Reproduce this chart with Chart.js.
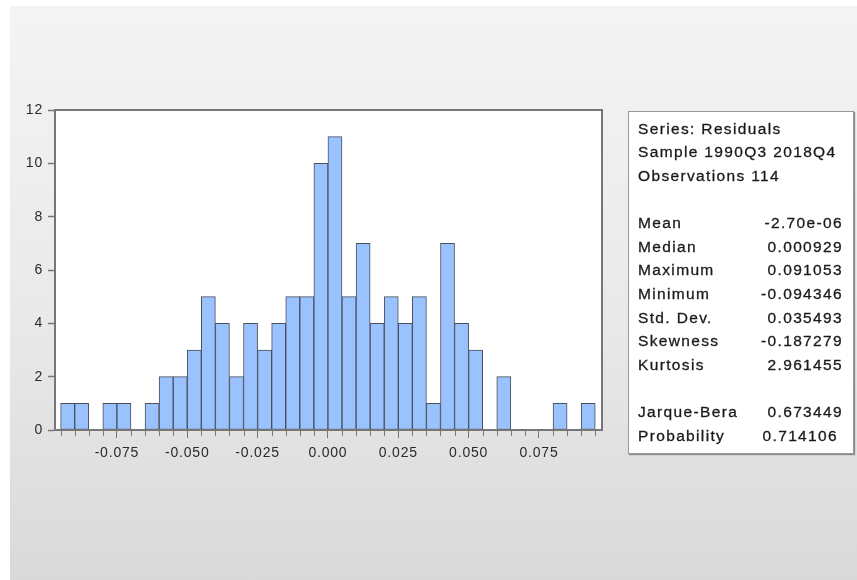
<!DOCTYPE html>
<html>
<head>
<meta charset="utf-8">
<script src="https://cdn.jsdelivr.net/npm/chart.js@4/dist/chart.umd.min.js"></script>
<style>
  html, body { margin: 0; padding: 0; background: #ffffff; }
  #wrap { position: relative; width: 857px; height: 580px; overflow: hidden; }
  #bg { position: absolute; left: 10px; top: 6px; width: 847px; height: 574px;
        background: linear-gradient(to bottom, #f4f4f4 0%, #e9e9e9 55%, #d9d9d9 100%); }
  #c { position: absolute; left: 0; top: 0; }
  #stats { position: absolute; left: 628px; top: 111px; width: 224px; height: 341px;
           background: #ffffff; border: 1px solid #9a9a9a; box-shadow: 1px 1px 1px #8a8a8a;
           font-family: "Liberation Sans", Arial, sans-serif; font-size: 15.5px; color: #1a1a1a;
           letter-spacing: 1.35px; -webkit-text-stroke: 0.3px #1a1a1a; }
  .row { position: absolute; left: 9px; width: 205px; height: 24px; line-height: 24px; white-space: nowrap; }
  .row .v { position: absolute; right: 0; top: 0; }
</style>
</head>
<body>
<div id="wrap">
  <div id="bg"></div>
  <canvas id="c" width="857" height="580"></canvas>
  <div id="stats"></div>
</div>
<script>
// ---- data ----
const binCenters = [-0.0925, -0.0875, -0.0825, -0.0775, -0.0725, -0.0675, -0.0625, -0.0575, -0.0525, -0.0475,
                    -0.0425, -0.0375, -0.0325, -0.0275, -0.0225, -0.0175, -0.0125, -0.0075, -0.0025, 0.0025,
                     0.0075,  0.0125,  0.0175,  0.0225,  0.0275,  0.0325,  0.0375,  0.0425,  0.0475,  0.0525,
                     0.0575,  0.0625,  0.0675,  0.0725,  0.0775,  0.0825,  0.0875,  0.0925];
const counts = [1, 1, 0, 1, 1, 0, 1, 2, 2, 3,
                5, 4, 2, 4, 3, 4, 5, 5, 10, 11,
                5, 7, 4, 5, 4, 5, 1, 7, 4, 3,
                0, 2, 0, 0, 0, 1, 0, 1];
const binEdges = [-0.095, -0.090, -0.085, -0.080, -0.075, -0.070, -0.065, -0.060, -0.055, -0.050,
                  -0.045, -0.040, -0.035, -0.030, -0.025, -0.020, -0.015, -0.010, -0.005, 0.000,
                   0.005,  0.010,  0.015,  0.020,  0.025,  0.030,  0.035,  0.040,  0.045,  0.050,
                   0.055,  0.060,  0.065,  0.070,  0.075,  0.080,  0.085,  0.090,  0.095];
const xTickValues = [-0.075, -0.050, -0.025, 0.000, 0.025, 0.050, 0.075];
const xTickLabels = ['-0.075', '-0.050', '-0.025', '0.000', '0.025', '0.050', '0.075'];
const yTickValues = [0, 2, 4, 6, 8, 10, 12];

const headerLines = ['Series: Residuals', 'Sample 1990Q3 2018Q4', 'Observations 114'];
const statLabels = ['Mean', 'Median', 'Maximum', 'Minimum', 'Std. Dev.', 'Skewness', 'Kurtosis'];
const statValues = ['-2.70e-06', '0.000929', '0.091053', '-0.094346', '0.035493', '-0.187279', '2.961455'];
const testLabels = ['Jarque-Bera', 'Probability'];
const testValues = ['0.673449', '0.714106'];

// ---- stats box ----
(function () {
  const box = document.getElementById('stats');
  const rows = [];
  headerLines.forEach(t => rows.push([t, '']));
  rows.push(['', '']);
  statLabels.forEach((t, i) => rows.push([t, statValues[i]]));
  rows.push(['', '']);
  testLabels.forEach((t, i) => rows.push([t, testValues[i]]));
  const rowH = 23.65;
  rows.forEach((r, i) => {
    const d = document.createElement('div');
    d.className = 'row';
    d.style.top = (4.5 + i * rowH) + 'px';
    d.textContent = r[0];
    if (r[1]) {
      const v = document.createElement('span');
      v.className = 'v';
      v.textContent = r[1];
      if (r[0] === 'Probability') v.style.right = '5px';
      d.appendChild(v);
    }
    box.appendChild(d);
  });
})();

// ---- chart ----
const AXIS_COLOR = '#767676';
const isMajor = v => xTickValues.some(t => Math.abs(t - v) < 1e-9);

const framePlugin = {
  id: 'frame',
  beforeLayout(chart) { chart.ctx.letterSpacing = '0.8px'; },
  beforeDraw(chart) {
    const { ctx, chartArea: a } = chart;
    ctx.save();
    ctx.fillStyle = '#ffffff';
    ctx.fillRect(a.left, a.top, a.right - a.left, a.bottom - a.top);
    ctx.restore();
    chart.ctx.letterSpacing = '0.8px';
  },
  afterDatasetsDraw(chart) {
    const { ctx, chartArea: a } = chart;
    const xs = chart.scales.x;
    ctx.save();
    ctx.strokeStyle = AXIS_COLOR;
    ctx.lineWidth = 2;
    ctx.strokeRect(a.left, a.top, a.right - a.left, a.bottom - a.top);
    ctx.lineWidth = 1;
    binEdges.forEach(e => {
      if (isMajor(e)) return;
      const px = Math.round(xs.getPixelForValue(e)) + 0.5;
      ctx.beginPath();
      ctx.moveTo(px, a.bottom + 1);
      ctx.lineTo(px, a.bottom + 6);
      ctx.stroke();
    });
    ctx.restore();
  }
};

new Chart(document.getElementById('c'), {
  type: 'bar',
  data: {
    datasets: [{
      data: binCenters.map((x, i) => ({ x: x, y: counts[i] })),
      backgroundColor: '#99c2ff',
      borderColor: '#4a4f5a',
      borderWidth: ctx => (ctx.raw && ctx.raw.y === 0) ? 0 : 1,
      borderSkipped: false,
      barPercentage: 1.0,
      categoryPercentage: 1.0
    }]
  },
  options: {
    responsive: false,
    animation: false,
    layout: { padding: { top: 110, right: 255, left: 0, bottom: 0 } },
    plugins: { legend: { display: false }, tooltip: { enabled: false }, title: { display: false } },
    scales: {
      x: {
        type: 'linear',
        offset: false,
        min: -0.0970,
        max: 0.0974,
        afterBuildTicks: s => { s.ticks = binEdges.map(v => ({ value: v })); },
        afterFit: s => { s.height = 150; },
        grid: {
          offset: false,
          drawOnChartArea: false,
          drawTicks: true,
          tickLength: 8,
          tickWidth: 1,
          tickColor: ctx => (ctx.tick && isMajor(ctx.tick.value)) ? AXIS_COLOR : 'rgba(0,0,0,0)'
        },
        border: { display: true, color: AXIS_COLOR, width: 2 },
        ticks: {
          autoSkip: false,
          maxRotation: 0,
          minRotation: 0,
          padding: 7,
          color: '#2a2a2a',
          font: { family: '"Liberation Sans", Arial, sans-serif', size: 14 },
          callback: v => {
            const i = xTickValues.findIndex(t => Math.abs(t - v) < 1e-9);
            return i >= 0 ? xTickLabels[i] : '';
          }
        }
      },
      y: {
        min: 0,
        max: 12,
        afterBuildTicks: s => { s.ticks = yTickValues.map(v => ({ value: v })); },
        afterFit: s => { s.width = 55; },
        grid: {
          drawOnChartArea: false,
          drawTicks: true,
          tickLength: 7,
          tickWidth: 1.5,
          tickColor: AXIS_COLOR
        },
        border: { display: true, color: AXIS_COLOR, width: 2 },
        ticks: {
          padding: 5,
          color: '#2a2a2a',
          font: { family: '"Liberation Sans", Arial, sans-serif', size: 14 },
          callback: v => String(v)
        }
      }
    }
  },
  plugins: [framePlugin]
});
</script>
</body>
</html>
